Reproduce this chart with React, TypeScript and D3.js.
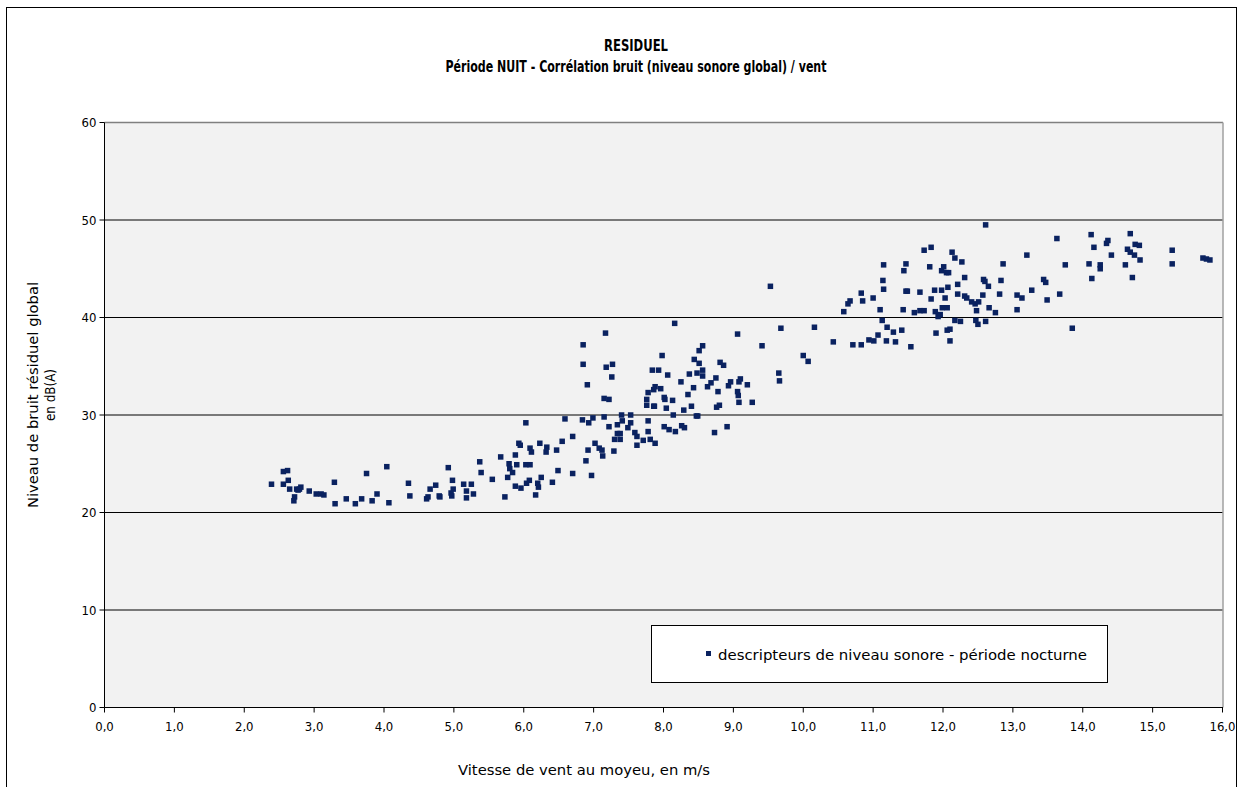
import React, { useEffect } from "react";
import * as d3 from "d3";

// Wind speed at hub height (m/s) and residual noise level (dB(A)), one entry per point
const windSpeed = [
  2.39, 2.56, 2.62, 2.56, 2.63, 2.65, 2.72, 2.71, 2.75, 2.77,
  2.81, 2.79, 2.93, 3.03, 3.10, 3.14, 3.29, 3.30, 3.46, 3.59,
  3.68, 3.75, 3.83, 3.90, 4.04, 4.07, 4.35, 4.37, 4.61, 4.63,
  4.66, 4.74, 4.79, 4.80, 4.92, 4.96, 4.97, 4.98, 4.99, 5.14,
  5.18, 5.18, 5.25, 5.28, 5.37, 5.39, 5.55, 5.67, 5.73, 5.77,
  5.79, 5.80, 5.84,
  5.88, 5.88, 5.90, 5.93, 5.95, 5.96, 6.03, 6.03, 6.09, 6.04,
  6.08, 6.09, 6.11, 6.17, 6.20, 6.21, 6.23, 6.25, 6.32, 6.33,
  6.41, 6.47, 6.49, 6.55, 6.59, 6.70, 6.70, 6.85, 6.85, 6.84,
  6.89, 6.91, 6.92, 6.93, 6.97, 6.99, 7.02, 7.08, 7.12, 7.13,
  7.15, 7.17, 7.15, 7.22, 7.18, 7.22, 7.26, 7.27, 7.29, 7.30,
  7.34, 7.34, 7.38, 7.38, 7.40, 7.41, 7.49, 7.53, 7.53, 7.59,
  7.62, 7.62, 7.71, 7.78, 7.78, 7.78, 7.76, 7.76, 7.81, 7.84,
  7.86, 7.86, 7.87, 7.88, 7.88, 7.93, 7.96, 7.98, 8.01, 8.01,
  8.02, 8.04, 8.06, 8.08, 8.13, 8.14, 8.16, 8.17, 8.25, 8.26,
  8.30, 8.29, 8.35, 8.37, 8.40, 8.43, 8.44, 8.47, 8.49, 8.48,
  8.51, 8.51, 8.56, 8.56, 8.56, 8.63, 8.68, 8.73, 8.75, 8.76,
  8.80, 8.78, 8.81, 8.86, 8.91, 8.93, 8.96, 9.06, 9.06, 9.07,
  9.08, 9.10, 9.08, 9.20,
  9.27, 9.41, 9.53, 9.65, 9.66, 9.68, 10.00, 10.07, 10.16, 10.43,
  10.58, 10.64, 10.67, 10.71, 10.83, 10.83, 10.85, 10.94, 11.01, 11.00,
  11.07, 11.10, 11.13, 11.14, 11.15, 11.15, 11.19, 11.20, 11.29, 11.32,
  11.41, 11.43, 11.44, 11.47, 11.47, 11.49, 11.54, 11.59, 11.67, 11.67,
  11.73, 11.73, 11.81, 11.83, 11.83, 11.88, 11.89, 11.90, 11.93, 11.96,
  11.98, 11.98, 12.01, 11.99, 12.06, 12.03, 12.05, 12.08, 12.06, 12.10,
  12.07, 12.10, 12.13, 12.17, 12.17, 12.21, 12.21, 12.25, 12.27, 12.31,
  12.31, 12.34, 12.41, 12.46, 12.48, 12.47, 12.50, 12.51, 12.57, 12.58,
  12.60, 12.61, 12.61, 12.65, 12.66, 12.75, 12.81, 12.83, 12.86,
  13.06, 13.13, 13.06, 13.20, 13.27, 13.44, 13.47, 13.49, 13.63, 13.67,
  13.75, 13.85, 14.09, 14.12, 14.13, 14.16, 14.25, 14.25, 14.34, 14.36,
  14.41, 14.61, 14.64, 14.68, 14.68, 14.74, 14.71, 14.75, 14.81, 14.82,
  15.28, 15.28, 15.72, 15.77, 15.82,
];

const noiseLevel = [
  22.9, 24.2, 24.3, 22.9, 23.3, 22.4, 21.6, 21.2, 22.4, 22.3,
  22.6, 22.4, 22.2, 21.9, 21.9, 21.8, 23.1, 20.9, 21.4, 20.9,
  21.4, 24.0, 21.2, 21.9, 24.7, 21.0, 23.0, 21.7, 21.4, 21.6,
  22.4, 22.8, 21.7, 21.6, 24.6, 22.0, 21.7, 23.3, 22.4, 22.9,
  22.2, 21.5, 22.9, 21.9, 25.2, 24.1, 23.4, 25.7, 21.6, 23.6,
  25.0, 24.5, 24.1,
  25.9, 22.7, 24.9, 27.1, 26.9, 22.5, 29.2, 24.9, 24.9, 23.0,
  23.3, 26.6, 26.2, 21.8, 23.0, 22.6, 27.1, 23.6, 26.2, 26.7,
  23.1, 26.4, 24.3, 27.3, 29.6, 27.8, 24.0, 37.2, 35.2, 29.5,
  25.3, 33.1, 26.4, 29.2, 23.8, 29.7, 27.1, 26.6, 26.4, 25.8,
  29.8, 38.4, 31.7, 31.6, 34.9, 28.8, 33.9, 35.2, 26.3, 27.5,
  29.0, 28.1, 27.5, 28.1, 30.0, 29.4, 28.7, 30.0, 29.2, 28.2,
  26.9, 27.8, 27.4, 29.4, 28.3, 32.3, 31.6, 31.0, 27.5, 34.6,
  32.6, 30.9, 30.9, 32.9, 27.1, 34.6, 32.7, 36.1, 28.8, 31.8,
  31.6, 30.7, 34.1, 28.5, 31.5, 30.0, 39.4, 28.3, 33.4, 28.9,
  28.7, 30.5, 32.1, 34.2, 30.9, 32.8, 35.7, 29.9, 29.9, 34.3,
  35.3, 36.6, 37.1, 34.6, 34.0, 32.9, 33.3, 28.2, 33.8, 30.8,
  31.0, 32.4, 35.4, 35.1, 28.8, 33.0, 33.4, 38.3, 32.4, 32.0,
  33.4, 33.7, 31.3, 33.1,
  31.3, 37.1, 43.2, 34.3, 33.5, 38.9, 36.1, 35.5, 39.0, 37.5,
  40.6, 41.4, 41.7, 37.2, 37.2, 42.5, 41.7, 37.7, 37.6, 42.0,
  38.2, 40.8, 39.7, 43.8, 45.4, 42.9, 37.6, 39.0, 38.5, 37.5,
  38.7, 40.8, 44.8, 45.5, 42.7, 42.7, 37.0, 40.5, 42.6, 40.7,
  40.7, 46.9, 45.2, 47.2, 41.9, 42.8, 40.6, 38.4, 40.1, 40.3,
  42.8, 44.8, 45.2, 41.0, 41.0, 42.0, 44.6, 44.6, 38.7, 38.8,
  43.1, 37.6, 46.7, 46.1, 39.7, 43.4, 42.4, 39.6, 45.7, 44.1,
  42.2, 42.0, 41.6, 41.4, 40.7, 39.7, 39.3, 41.6, 42.3, 43.9,
  43.7, 49.5, 39.6, 43.2, 41.0, 40.5, 42.4, 43.8, 45.5,
  42.3, 42.0, 40.8, 46.4, 42.8, 43.9, 43.6, 41.8, 48.1, 42.4,
  45.4, 38.9, 45.5, 48.5, 44.0, 47.2, 45.4, 45.0, 47.6, 47.9,
  46.4, 45.4, 47.0, 48.6, 46.7, 46.4, 44.1, 47.5, 47.4, 45.9,
  46.9, 45.5, 46.1, 46.0, 45.9,
];

const xTickValues = [0, 1, 2, 3, 4, 5, 6, 7, 8, 9, 10, 11, 12, 13, 14, 15, 16];
const yTickValues = [0, 10, 20, 30, 40, 50, 60];
const titleLines = ["RESIDUEL", "Période NUIT - Corrélation bruit (niveau sonore global) / vent"];
const yAxisTitle = ["Niveau de bruit résiduel global", "en dB(A)"];
const xAxisTitle = "Vitesse de vent au moyeu, en m/s";
const legendLabel = "descripteurs de niveau sonore - période nocturne";

const FONT = "'DejaVu Sans', Verdana, sans-serif";
const CFONT = "'DejaVu Sans Condensed', 'DejaVu Sans', sans-serif";
const MARK = "#0a2260";

export default function App() {
  useEffect(() => {
    document.body.style.margin = "0";
    document.body.style.overflow = "hidden";
  }, []);

  const W = 1244;
  const H = 787;
  const plot = { left: 104.5, right: 1223, top: 122.5, bottom: 707.5 };
  const x = d3.scaleLinear().domain([0, 16]).range([plot.left, plot.right - 0.5]);
  const y = d3.scaleLinear().domain([0, 60]).range([plot.bottom, plot.top]);
  const fmt = (v: number) => d3.format(".1f")(v).replace(".", ",");
  const points = windSpeed.map((w, i) => [w, noiseLevel[i]]);
  const ms = 5.5;

  return (
    <svg width={W} height={H} style={{ position: "absolute", left: 0, top: 0, background: "#fff" }}>
      {/* chart area border */}
      <rect x={6.5} y={7.5} width={1230} height={900} fill="#fff" stroke="#000" strokeWidth={1} />

      {/* title */}
      <text x={636} y={51} textAnchor="middle" fontFamily={CFONT} fontWeight="bold" fontSize={16}
        textLength={64} lengthAdjust="spacingAndGlyphs">{titleLines[0]}</text>
      <text x={636} y={72} textAnchor="middle" fontFamily={CFONT} fontWeight="bold" fontSize={15.5}
        textLength={381} lengthAdjust="spacingAndGlyphs">{titleLines[1]}</text>

      {/* plot area */}
      <rect x={plot.left} y={plot.top} width={plot.right - plot.left} height={plot.bottom - plot.top}
        fill="#f2f2f2" stroke="none" />
      {yTickValues.filter((v) => v > 0 && v < 60).map((v) => (
        <line key={v} x1={plot.left} x2={plot.right} y1={y(v)} y2={y(v)} stroke="#000" strokeWidth={1} />
      ))}
      <line x1={plot.left} x2={plot.right} y1={plot.top} y2={plot.top} stroke="#808080" strokeWidth={1.5} />
      <line x1={plot.right} x2={plot.right} y1={plot.top} y2={plot.bottom} stroke="#a0a0a0" strokeWidth={1.5} />

      {/* axes */}
      <line x1={plot.left} x2={plot.left} y1={plot.top} y2={plot.bottom} stroke="#000" strokeWidth={1} />
      <line x1={plot.left} x2={plot.right} y1={plot.bottom} y2={plot.bottom} stroke="#000" strokeWidth={1} />
      {yTickValues.map((v) => (
        <g key={v}>
          <line x1={plot.left - 5} x2={plot.left} y1={y(v)} y2={y(v)} stroke="#000" />
          <text x={plot.left - 8} y={y(v)} dy="0.36em" textAnchor="end" fontFamily={CFONT} fontSize={13}>{v}</text>
        </g>
      ))}
      {xTickValues.map((v) => (
        <g key={v}>
          <line x1={x(v)} x2={x(v)} y1={plot.bottom} y2={plot.bottom + 5} stroke="#000" />
          <text x={x(v)} y={731} textAnchor="middle" fontFamily={CFONT} fontSize={13}>{fmt(v)}</text>
        </g>
      ))}

      {/* points */}
      {points.map(([w, n], i) => (
        <rect key={i} x={x(w) - ms / 2} y={y(n) - ms / 2} width={ms} height={ms} fill={MARK} />
      ))}

      {/* axis titles */}
      <text transform="translate(38,395) rotate(-90)" textAnchor="middle" fontFamily={CFONT} fontSize={14}
        textLength={226} lengthAdjust="spacingAndGlyphs">{yAxisTitle[0]}</text>
      <text transform="translate(55,395) rotate(-90)" textAnchor="middle" fontFamily={CFONT} fontSize={14}
        textLength={52} lengthAdjust="spacingAndGlyphs">{yAxisTitle[1]}</text>
      <text x={584} y={775} textAnchor="middle" fontFamily={CFONT} fontSize={14}
        textLength={252} lengthAdjust="spacingAndGlyphs">{xAxisTitle}</text>

      {/* legend */}
      <rect x={651.5} y={625.5} width={456} height={57} fill="#fff" stroke="#000" strokeWidth={1} />
      <rect x={706} y={651} width={5} height={5} fill={MARK} />
      <text x={718} y={660} fontFamily={CFONT} fontSize={14} textLength={369} lengthAdjust="spacingAndGlyphs">
        {legendLabel}
      </text>
    </svg>
  );
}
